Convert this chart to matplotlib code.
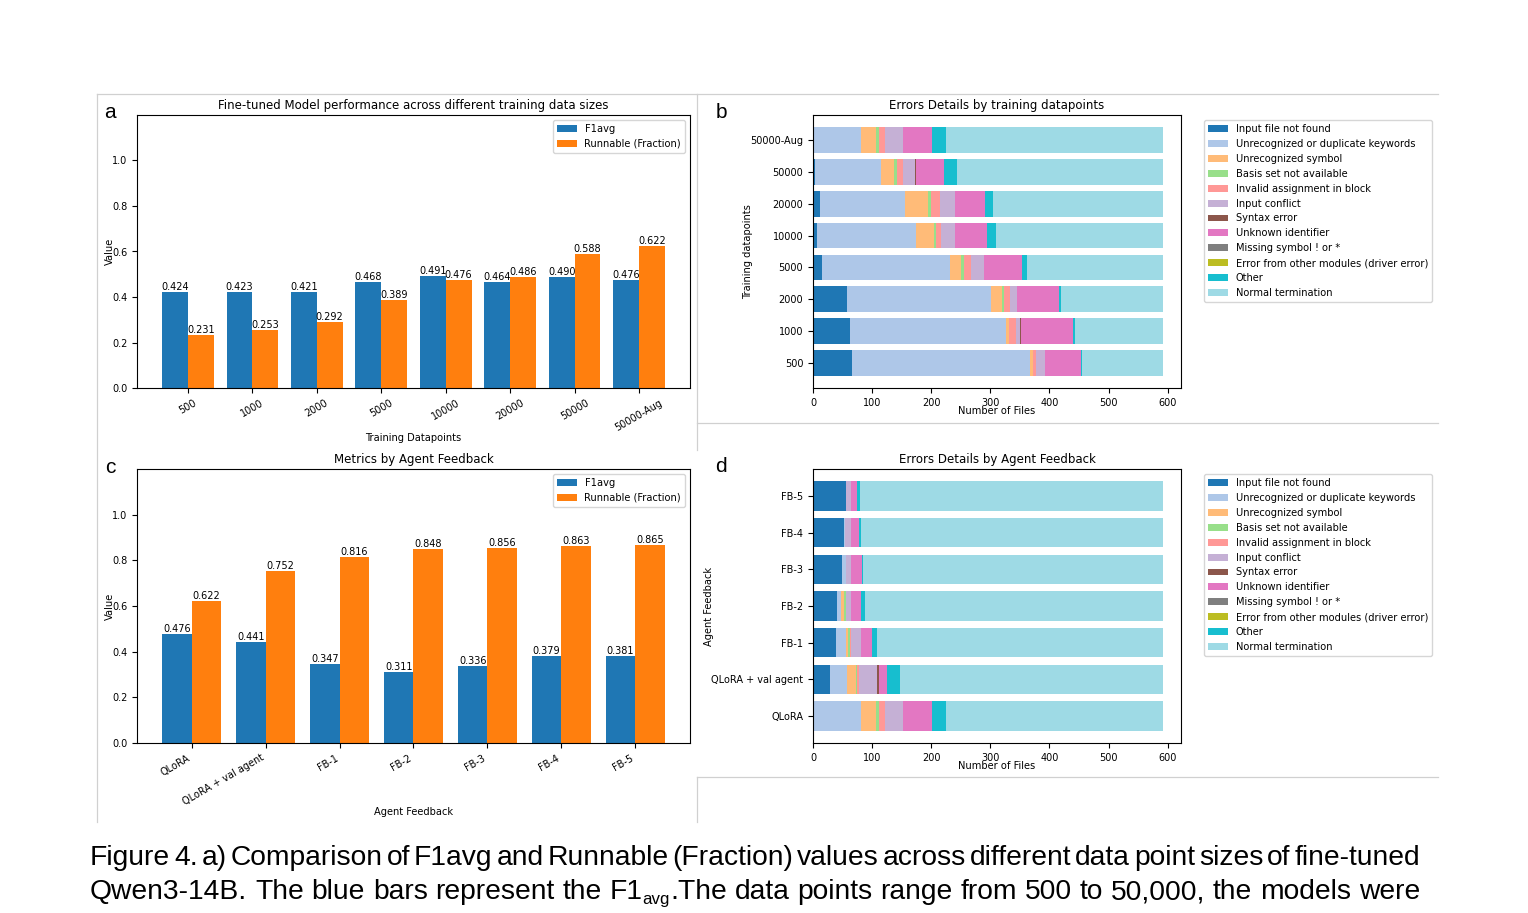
import numpy as np
import matplotlib.pyplot as plt
from matplotlib.lines import Line2D

W, H = 1528, 913

# ---- panel a: performance vs training size ----
sizes = ['500', '1000', '2000', '5000', '10000', '20000', '50000', '50000-Aug']
f1_sizes = [0.424, 0.423, 0.421, 0.468, 0.491, 0.464, 0.490, 0.476]
run_sizes = [0.231, 0.253, 0.292, 0.389, 0.476, 0.486, 0.588, 0.622]

# ---- panel c: performance vs agent feedback ----
feedback = ['QLoRA', 'QLoRA + val agent', 'FB-1', 'FB-2', 'FB-3', 'FB-4', 'FB-5']
f1_fb = [0.476, 0.441, 0.347, 0.311, 0.336, 0.379, 0.381]
run_fb = [0.622, 0.752, 0.816, 0.848, 0.856, 0.863, 0.865]

error_types = ['Input file not found', 'Unrecognized or duplicate keywords',
               'Unrecognized symbol', 'Basis set not available',
               'Invalid assignment in block', 'Input conflict', 'Syntax error',
               'Unknown identifier', 'Missing symbol ! or *',
               'Error from other modules (driver error)', 'Other',
               'Normal termination']
error_colors = ['#1f77b4', '#aec7e8', '#ffbb78', '#98df8a', '#ff9896', '#c5b0d5',
                '#8c564b', '#e377c2', '#7f7f7f', '#bcbd22', '#17becf', '#9edae5']

# ---- panel b: number of files per error type (same order as error_types) ----
b_500 = [66, 301, 5, 0, 6, 15, 0, 60, 0, 0, 2, 138]
b_1000 = [62, 265, 4, 0, 12, 7, 2, 88, 0, 0, 3, 150]
b_2000 = [58, 244, 17, 4, 11, 12, 0, 70, 0, 0, 3, 174]
b_5000 = [16, 216, 19, 5, 11, 22, 0, 64, 0, 0, 9, 231]
b_10000 = [7, 167, 30, 4, 9, 23, 0, 55, 0, 0, 15, 283]
b_20000 = [11, 145, 38, 6, 15, 25, 0, 51, 0, 0, 13, 289]
b_50000 = [4, 111, 22, 5, 10, 20, 2, 47, 0, 0, 23, 349]
b_50000_aug = [2, 80, 24, 5, 10, 32, 0, 49, 0, 0, 23, 368]

# ---- panel d: number of files per error type by agent feedback ----
d_qlora = [2, 80, 24, 5, 10, 32, 0, 49, 0, 0, 23, 368]
d_qlora_val = [29, 29, 14, 3, 3, 31, 3, 14, 0, 0, 21, 446]
d_fb1 = [39, 16, 5, 3, 2, 16, 0, 19, 0, 0, 8, 485]
d_fb2 = [41, 6, 5, 3, 0, 10, 0, 17, 0, 0, 6, 505]
d_fb3 = [49, 6, 0, 0, 0, 10, 0, 18, 0, 0, 2, 508]
d_fb4 = [52, 2, 0, 0, 0, 11, 0, 12, 0, 0, 4, 512]
d_fb5 = [56, 0, 0, 0, 0, 9, 0, 10, 0, 0, 4, 514]

fig = plt.figure(figsize=(W / 100, H / 100), dpi=100)

TS = 8.5   # titles
LS = 7.1   # axis labels
KS = 7.0   # ticks, bar labels
GS = 7.1   # legends


def px_axes(l, t, r, b):
    return fig.add_axes([l / W, 1 - b / H, (r - l) / W, (b - t) / H])


def grouped(ax, labels, f1, run, title, xlabel, ha):
    x = np.arange(len(labels))
    w = 0.4
    b1 = ax.bar(x - w / 2, f1, w, color='#1f77b4', label='F1avg')
    b2 = ax.bar(x + w / 2, run, w, color='#ff7f0e', label='Runnable (Fraction)')
    ax.bar_label(b1, fmt='%.3f', fontsize=KS, padding=0)
    ax.bar_label(b2, fmt='%.3f', fontsize=KS, padding=0)
    ax.set_ylim(0, 1.2)
    ax.set_yticks([0, 0.2, 0.4, 0.6, 0.8, 1.0])
    ax.set_xticks(x)
    ax.set_xticklabels(labels, rotation=30, ha=ha, fontsize=KS)
    ax.tick_params(axis='y', labelsize=KS)
    ax.set_title(title, fontsize=TS, pad=4)
    ax.set_xlabel(xlabel, fontsize=LS, labelpad=0)
    ax.set_ylabel('Value', fontsize=LS, labelpad=-2)
    ax.legend(loc='upper right', fontsize=GS)


def stacked(ax, rows, data, title, ylabel):
    data = np.array(data)
    left = np.zeros(len(rows))
    for j, name in enumerate(error_types):
        ax.barh(rows, data[:, j], left=left, color=error_colors[j], label=name)
        left += data[:, j]
    ax.set_title(title, fontsize=TS, pad=4)
    ax.set_xlabel('Number of Files', fontsize=LS, labelpad=-1)
    ax.set_ylabel(ylabel, fontsize=LS, labelpad=-2)
    ax.tick_params(labelsize=KS)
    ax.legend(loc='upper left', bbox_to_anchor=(1.05, 1), fontsize=GS)


ax_a = px_axes(137, 115, 690, 388)
grouped(ax_a, sizes, f1_sizes, run_sizes,
        'Fine-tuned Model performance across different training data sizes',
        'Training Datapoints', 'center')

ax_c = px_axes(137, 469, 690, 743)
grouped(ax_c, feedback, f1_fb, run_fb, 'Metrics by Agent Feedback',
        'Agent Feedback', 'right')

ax_b = px_axes(813, 115, 1181, 388)
stacked(ax_b, sizes, [b_500, b_1000, b_2000, b_5000, b_10000, b_20000,
                      b_50000, b_50000_aug],
        'Errors Details by training datapoints', 'Training datapoints')

ax_d = px_axes(813, 469, 1181, 743)
stacked(ax_d, feedback, [d_qlora, d_qlora_val, d_fb1, d_fb2, d_fb3, d_fb4, d_fb5],
        'Errors Details by Agent Feedback', 'Agent Feedback')

# panel letters
for letter, (lx, ly) in zip('abcd', [(110, 113), (721, 112), (110, 467), (721, 466)]):
    fig.text(lx / W, 1 - ly / H, letter, fontsize=15, ha='center', va='center',
             family='Liberation Sans')

# faint screenshot frame lines
frame = [((97, 94), (1438, 94)), ((97, 94), (97, 822)), ((697, 94), (697, 450)),
         ((697, 423), (1438, 423)), ((697, 777), (1438, 777)), ((697, 777), (697, 822))]
for (x0, y0), (x1, y1) in frame:
    fig.add_artist(Line2D([x0 / W, x1 / W], [1 - y0 / H, 1 - y1 / H],
                          color='#d0d0d0', lw=0.9, transform=fig.transFigure))

# caption, justified between x=90 and x=1420
cap_family = ['Liberation Sans Narrow', 'Liberation Sans']
CS = 20.3
fig.canvas.draw()
rend = fig.canvas.get_renderer()


def tw(s, size):
    t = fig.text(0, 0, s, fontsize=size, family=cap_family)
    w = t.get_window_extent(renderer=rend).width
    t.remove()
    return w


line1 = [[(w, CS, 0)] for w in
         'Figure 4. a) Comparison of F1avg and Runnable (Fraction) values across different data point sizes of fine-tuned'.split()]
line2 = [[(w, CS, 0)] for w in 'Qwen3-14B. The blue bars represent the'.split()]
line2.append([('F1', CS, 0), ('avg', CS * 0.6, 5), ('.The', CS, 0)])
line2 += [[(w, CS, 0)] for w in 'data points range from 500 to 50,000, the models were'.split()]


def justify(words, base_y, x0=90, x1=1420):
    widths = [sum(tw(s, sz) for s, sz, dy in word) for word in words]
    gap = (x1 - x0 - sum(widths)) / (len(words) - 1)
    x = x0
    for word, wd in zip(words, widths):
        xx = x
        for s, sz, dy in word:
            fig.text(xx / W, 1 - (base_y + dy) / H, s, fontsize=sz, family=cap_family,
                     va='baseline', ha='left')
            xx += tw(s, sz)
        x += wd + gap


justify(line1, 865)
justify(line2, 899)

fig.savefig('out.png', dpi=100)
